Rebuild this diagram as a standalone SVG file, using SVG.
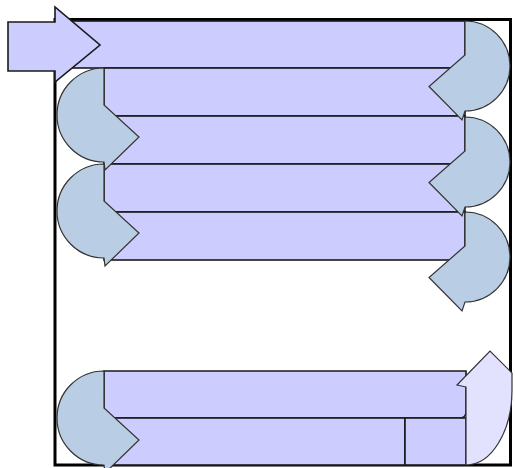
<svg xmlns="http://www.w3.org/2000/svg" width="515" height="468" viewBox="0 0 515 468">
<style>
.bar{fill:#ccccff;stroke:#1a1a1a;stroke-width:1.6}
.turn{fill:#b9cde5;stroke:#333;stroke-width:1.2}
.frame{fill:none;stroke:#000;stroke-width:3}
.up{fill:#e2e2ff;stroke:#333;stroke-width:1.2}
</style>
<defs>
<path id="turnL" d="M0,-47 A47,47 0 0 0 0,47 L1,55 L35,22 L0,-10 Z"/>
<path id="turnR" d="M0,-45 A45,45 0 0 1 0,45 L-3,54 L-36,20.5 L0,-11 Z"/>
</defs>
<rect width="515" height="468" fill="#fff"/>
<g id="frame"><rect class="frame" x="55" y="19.5" width="455.5" height="445.5"/></g>
<g id="bars">
<g id="bar1"><rect class="bar" x="55" y="21" width="410" height="47"/></g>
<g id="bar2"><rect class="bar" x="104" y="68" width="361" height="48"/></g>
<g id="bar3"><rect class="bar" x="104" y="116" width="361" height="48"/></g>
<g id="bar4"><rect class="bar" x="104" y="164" width="361" height="48"/></g>
<g id="bar5"><rect class="bar" x="104" y="212" width="361" height="48"/></g>
<g id="barA"><path class="bar" d="M104,371 H466 V412 Q466,418 460,418 H104 Z"/></g>
<g id="barB1"><rect class="bar" x="104" y="418" width="301" height="47"/></g>
<g id="barB2"><rect class="bar" x="405" y="418" width="61" height="47"/></g>
</g>
<g id="connectors">
<g id="start-arrow"><path class="bar" d="M8,22 H55 V7 L100,45 L55,82 V71 H8 Z"/></g>
<g id="turn-r1"><use href="#turnR" class="turn" transform="translate(465,66)"/></g>
<g id="turn-l1"><use href="#turnL" class="turn" transform="translate(104,115)"/></g>
<g id="turn-r2"><use href="#turnR" class="turn" transform="translate(465,162)"/></g>
<g id="turn-l2"><use href="#turnL" class="turn" transform="translate(104,211)"/></g>
<g id="turn-r3"><use href="#turnR" class="turn" transform="translate(465,257)"/></g>
<g id="turn-l3"><use href="#turnL" class="turn" transform="translate(104,418)"/></g>
<g id="up-arrow"><path class="up" d="M466,387 L457,385 L490,351 L512,373 L512,390 A46,75 0 0 1 466,465 Z"/></g>
</g>
</svg>
